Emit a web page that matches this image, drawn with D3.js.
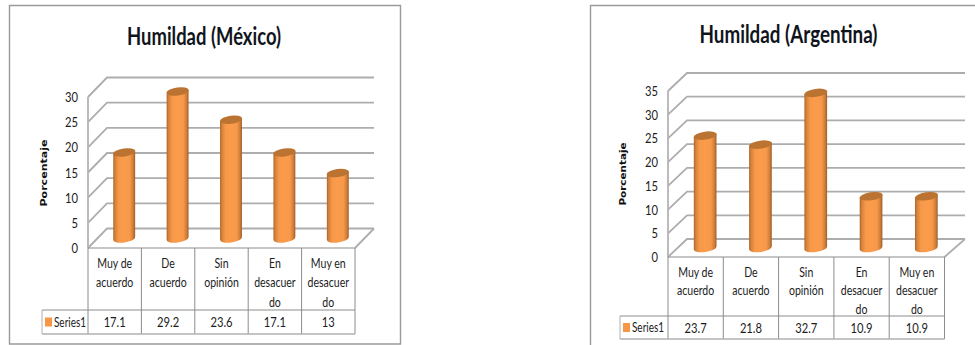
<!DOCTYPE html>
<html>
<head>
<meta charset="utf-8">
<script src="https://cdn.jsdelivr.net/npm/d3@7/dist/d3.min.js"></script>
<style>
html, body { margin: 0; padding: 0; background: #fff; }
svg { display: block; }
text { fill: #1c1c1c; font-family: Lato, "Open Sans", sans-serif; }
</style>
</head>
<body>
<svg id="chart" width="975" height="345"></svg>
<script>
// Survey answers shared by both panels
const categories = ["Muy de acuerdo", "De acuerdo", "Sin opinión", "En desacuerdo", "Muy en desacuerdo"];
const categoryLines = [["Muy de", "acuerdo"], ["De", "acuerdo"], ["Sin", "opinión"], ["En", "desacuer", "do"], ["Muy en", "desacuer", "do"]];
const seriesName = "Series1";
const axisTitle = "Porcentaje";

const mexicoTitle = "Humildad (México)";
const mexicoValues = [17.1, 29.2, 23.6, 17.1, 13];
const mexicoTicks = [0, 5, 10, 15, 20, 25, 30];

const argentinaTitle = "Humildad (Argentina)";
const argentinaValues = [23.7, 21.8, 32.7, 10.9, 10.9];
const argentinaTicks = [0, 5, 10, 15, 20, 25, 30, 35];

// Panel geometry
const panels = [
  { title: mexicoTitle, values: mexicoValues, ticks: mexicoTicks, domainMax: 30,
    frame: [9.5, 5.5, 400.5, 344], titleX: 204, titleY: 45, titleLen: 154,
    left: 88, right: 355, zeroY: 248, topY: 97, depthX: 19, depthY: 19.5,
    wallRight: 374, rowY: 310, rowBottom: 334, rowLeft: 42, barBase: 238.5, axisTitleX: 47, axisTitleY: 173, axisTitleLen: 67 },
  { title: argentinaTitle, values: argentinaValues, ticks: argentinaTicks, domainMax: 35,
    frame: [590.5, 5.5, 975, 345], titleX: 788.5, titleY: 42.5, titleLen: 178,
    left: 668, right: 944.5, zeroY: 257, topY: 91, depthX: 19, depthY: 18,
    wallRight: 965, rowY: 316, rowBottom: 339, rowLeft: 620, barBase: 248, axisTitleX: 626, axisTitleY: 174, axisTitleLen: 63 }
];

const svg = d3.select("#chart");
const defs = svg.append("defs");

// Cylinder side shading: dark rims with a bright orange centre
const body = defs.append("linearGradient").attr("id", "cylinderBody");
[[0, "#a9652c"], [0.09, "#d6833a"], [0.26, "#f7994a"], [0.5, "#fb9c4c"], [0.76, "#f7994a"], [0.91, "#cf7d38"], [1, "#9c5c28"]]
  .forEach(([o, c]) => body.append("stop").attr("offset", o).attr("stop-color", c));

const soft = defs.append("filter").attr("id", "soft").attr("x", "-10%").attr("y", "-10%").attr("width", "120%").attr("height", "120%");
soft.append("feGaussianBlur").attr("stdDeviation", 0.45);

const gridColor = "#adadad";
const tableColor = "#8c8c8c";

// Squeezes a label horizontally to a condensed look, or to a given width
function condense(sel, factor, width) {
  sel.each(function () {
    const len = width || this.getComputedTextLength() * factor;
    d3.select(this).attr("textLength", len).attr("lengthAdjust", "spacingAndGlyphs");
  });
  return sel;
}

panels.forEach(p => {
  const g = svg.append("g");

  // Outer chart border
  g.append("path")
    .attr("d", `M${p.frame[0]},${p.frame[3]}V${p.frame[1]}H${p.frame[2]}` + (p.frame[2] < 970 ? `V${p.frame[3]}Z` : ""))
    .attr("fill", "none").attr("stroke", "#9a9a9a").attr("stroke-width", 1.4);

  g.append("text").attr("x", p.titleX).attr("y", p.titleY)
    .attr("text-anchor", "middle").attr("font-size", 25).attr("font-weight", 700)
    .style("fill", "#10141c").text(p.title)
    .call(condense, 1, p.titleLen);

  const y = d3.scaleLinear().domain([0, p.domainMax]).range([p.zeroY, p.topY]);
  const x = d3.scaleBand().domain(categories).range([p.left, p.right]);

  // Back wall gridlines with their slanted returns along the side wall
  const walls = g.append("g").attr("fill", "none").attr("stroke", gridColor).attr("stroke-width", 1.8);
  walls.selectAll("path.grid").data(p.ticks).join("path").attr("class", "grid")
    .attr("d", t => `M${p.left},${y(t)}L${p.left + p.depthX},${y(t) - p.depthY}H${p.wallRight}`);
  walls.append("path").attr("d", `M${p.left},${y(0)}V${y(p.domainMax)}`).attr("stroke", "#b4b4b4");
  walls.append("path").attr("d", `M${p.right},${y(0)}L${p.wallRight},${y(0) - p.depthY}`);
  walls.append("path").attr("d", `M${p.left},${y(0)}H${p.right}`).attr("stroke", tableColor).attr("stroke-width", 1.2);

  // Value axis labels
  g.append("g").selectAll("text").data(p.ticks).join("text")
    .attr("x", p.left - 10).attr("y", t => y(t) + 5)
    .attr("text-anchor", "end").attr("font-size", 14).text(t => t)
    .call(condense, 0.8);

  g.append("text")
    .attr("transform", `translate(${p.axisTitleX},${p.axisTitleY}) rotate(-90)`)
    .attr("text-anchor", "middle").attr("font-size", 9.5).attr("font-weight", 700)
    .style("font-family", "'DejaVu Sans', sans-serif").style("fill", "#111")
    .text(axisTitle)
    .call(condense, 1, p.axisTitleLen);

  // Cylinders, set back from the front edge by half the floor depth
  const unit = (p.zeroY - p.topY) / p.domainMax;
  const barW = x.bandwidth() * 0.41;
  const rx = barW / 2;
  const tilt = 1.5;
  const bars = g.append("g").attr("filter", "url(#soft)");
  const bar = bars.selectAll("g").data(p.values).join("g")
    .attr("transform", (d, i) => `translate(${x(categories[i]) + x.bandwidth() / 2 + p.depthX / 2},0)`);
  bar.append("path")
    .attr("d", d => {
      const top = p.barBase - d * unit;
      return `M${-rx},${top + tilt}V${p.barBase + tilt}A${rx},4 -8 0 0 ${rx},${p.barBase - tilt}V${top - tilt}Z`;
    })
    .attr("fill", "url(#cylinderBody)");
  bar.append("ellipse")
    .attr("cy", d => p.barBase - d * unit)
    .attr("rx", rx + 0.3).attr("ry", 4)
    .attr("transform", d => `rotate(-8,0,${p.barBase - d * unit})`)
    .attr("fill", "#bb7333");

  // Data table: category cells, then the series row
  const table = g.append("g").attr("fill", "none").attr("stroke", tableColor).attr("stroke-width", 1);
  const edges = categories.map(c => x(c)).concat(p.right);
  table.selectAll("path.col").data(edges).join("path").attr("class", "col")
    .attr("d", e => `M${e},${p.zeroY}V${p.rowBottom}`);
  table.append("path").attr("d", `M${p.rowLeft},${p.rowY}H${p.right}`);
  table.append("path").attr("d", `M${p.rowLeft},${p.rowY}V${p.rowBottom}`).attr("stroke", "#b0b0b0");
  table.append("path").attr("d", `M${p.rowLeft},${p.rowBottom}H${p.right}`).attr("stroke", "#b0b0b0").attr("stroke-width", 1.6);

  categories.forEach((c, i) => {
    const cx = x(c) + x.bandwidth() / 2;
    categoryLines[i].forEach((line, k) => {
      g.append("text").attr("text-anchor", "middle").attr("font-size", 13.5)
        .attr("x", cx).attr("y", p.zeroY + 20 + k * (p.rowY - p.zeroY - 4) / 3)
        .text(line).call(condense, 0.78);
    });
    g.append("text").attr("x", cx).attr("y", (p.rowY + p.rowBottom) / 2 + 5)
      .attr("text-anchor", "middle").attr("font-size", 14).text(p.values[i])
      .call(condense, 0.8);
  });

  // Legend key and series name
  g.append("rect").attr("x", p.rowLeft + 3).attr("y", (p.rowY + p.rowBottom) / 2 - 4.5)
    .attr("width", 7).attr("height", 9).attr("fill", "#f79646");
  g.append("text").attr("x", p.rowLeft + 12).attr("y", (p.rowY + p.rowBottom) / 2 + 4.5)
    .attr("font-size", 13.5).text(seriesName)
    .call(condense, 1, 32);
});
</script>
</body>
</html>
